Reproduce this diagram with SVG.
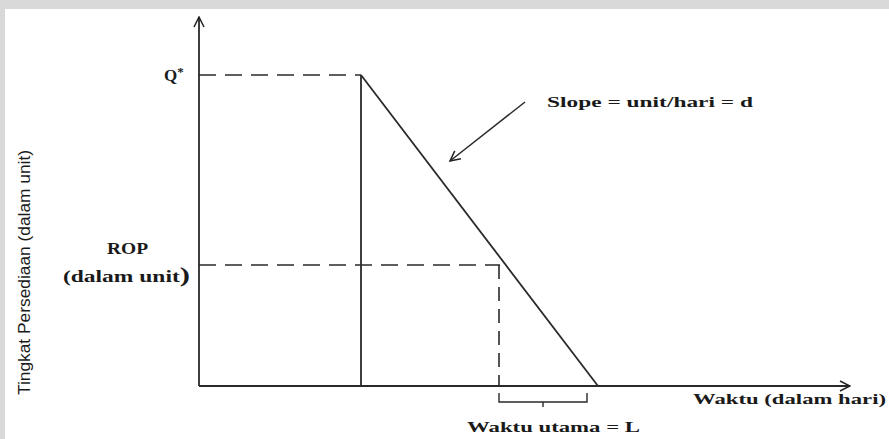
<svg xmlns="http://www.w3.org/2000/svg" width="889" height="439" viewBox="0 0 889 439">
<defs>
<marker id="arr" viewBox="0 0 12 12" refX="11" refY="6" markerWidth="12" markerHeight="12" markerUnits="userSpaceOnUse" orient="auto">
<path d="M1,1 L11,6 L1,11" fill="none" stroke="#222" stroke-width="1.5"/>
</marker>
<style>
.ln{stroke:#2a2a2a;stroke-width:1.8;fill:none}
.dash{stroke:#2a2a2a;stroke-width:1.6;fill:none;stroke-dasharray:17 9}
.lb{font-family:"Liberation Serif","Times New Roman",serif;font-weight:bold;font-size:15px;fill:#1a1a1a}
.ax{font-family:"Liberation Sans",Arial,sans-serif;font-size:17px;fill:#1a1a1a}
</style>
</defs>
<rect x="0" y="0" width="889" height="439" fill="#d9d9d9"/>
<rect x="5" y="9" width="884" height="430" fill="#ffffff"/>
<g id="connectors">
<line class="ln" x1="199" y1="386" x2="199" y2="17" marker-end="url(#arr)"/>
<line class="ln" x1="199" y1="386" x2="850" y2="386" marker-end="url(#arr)"/>
<line class="dash" x1="199" y1="75" x2="361" y2="75"/>
<line class="ln" x1="361" y1="75" x2="361" y2="386"/>
<line class="ln" x1="361" y1="75" x2="598" y2="386"/>
<line class="dash" x1="199" y1="265" x2="500" y2="265"/>
<line class="dash" x1="499" y1="265" x2="499" y2="386" style="stroke-dasharray:14 8"/>
<path class="ln" d="M499,393 L499,402 L587,402 L587,393 M543,402 L543,407" style="stroke-width:1.4"/>
<line class="ln" x1="525" y1="102" x2="450" y2="161" marker-end="url(#arr)" style="stroke-width:1.5"/>
</g>
<g id="q-star"><text class="lb" x="164" y="81" style="font-size:17px">Q<tspan dy="-5" style="font-size:13px">*</tspan></text></g>
<g id="rop"><text class="lb" x="107" y="254" style="font-size:16px" textLength="41" lengthAdjust="spacingAndGlyphs">ROP</text>
<text class="lb" x="63" y="282" style="font-size:16px" textLength="127" lengthAdjust="spacingAndGlyphs">(dalam unit<tspan style="font-size:21px">)</tspan></text></g>
<g id="slope-label"><text class="lb" x="547" y="107" textLength="206" lengthAdjust="spacingAndGlyphs">Slope = unit/hari = d</text></g>
<g id="x-label"><text class="lb" x="693" y="404" textLength="193" lengthAdjust="spacingAndGlyphs">Waktu (dalam hari)</text></g>
<g id="lead-label"><text class="lb" x="467" y="432" textLength="173" lengthAdjust="spacingAndGlyphs">Waktu utama = L</text></g>
<g id="y-label"><text class="ax" transform="translate(30,395) rotate(-90)" textLength="245" lengthAdjust="spacingAndGlyphs">Tingkat Persediaan (dalam unit)</text></g>
</svg>
